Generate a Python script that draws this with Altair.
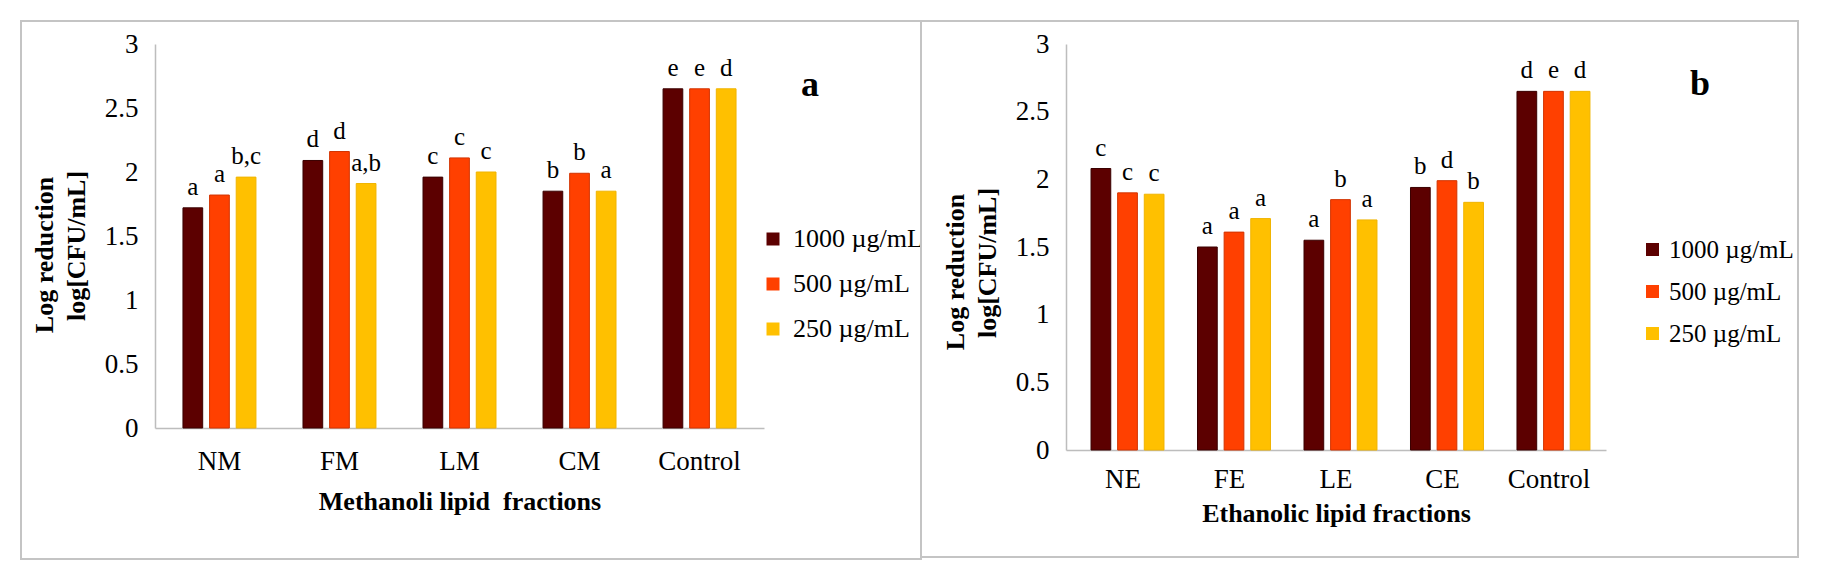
import altair as alt
import pandas as pd

FONT = "Liberation Serif"

doses = ["1000 µg/mL", "500 µg/mL", "250 µg/mL"]
colors = ["#5c0000", "#ff4000", "#ffc000"]
outlines = ["#3a0000", "#d23300", "#f0b400"]

# Panel a: methanolic lipid fractions
cats_a = ["NM", "FM", "LM", "CM", "Control"]
vals_a_1000 = [1.72, 2.09, 1.96, 1.85, 2.65]
vals_a_500 = [1.82, 2.16, 2.11, 1.99, 2.65]
vals_a_250 = [1.96, 1.91, 2.00, 1.85, 2.65]
let_a_1000 = ["a", "d", "c", "b", "e"]
let_a_500 = ["a", "d", "c", "b", "e"]
let_a_250 = ["b,c", "a,b", "c", "a", "d"]

# Panel b: ethanolic lipid fractions
cats_b = ["NE", "FE", "LE", "CE", "Control"]
vals_b_1000 = [2.08, 1.50, 1.55, 1.94, 2.65]
vals_b_500 = [1.90, 1.61, 1.85, 1.99, 2.65]
vals_b_250 = [1.89, 1.71, 1.70, 1.83, 2.65]
let_b_1000 = ["c", "a", "a", "b", "d"]
let_b_500 = ["c", "a", "b", "d", "e"]
let_b_250 = ["c", "a", "a", "b", "d"]

y_ticks = [0, 0.5, 1, 1.5, 2, 2.5, 3]
y_title = ["Log reduction", "log[CFU/mL]"]


def long_df(cats, vals, lets):
    rows = []
    for d, vs, ls in zip(doses, vals, lets):
        for c, v, l in zip(cats, vs, ls):
            rows.append({"cat": c, "dose": d, "value": v, "letter": l})
    return pd.DataFrame(rows)


df_a = long_df(cats_a, [vals_a_1000, vals_a_500, vals_a_250], [let_a_1000, let_a_500, let_a_250])
df_b = long_df(cats_b, [vals_b_1000, vals_b_500, vals_b_250], [let_b_1000, let_b_500, let_b_250])
one = pd.DataFrame({"k": [0]})


def label(txt, x, y, size, weight="normal", angle=0):
    return alt.Chart(one).mark_text(font=FONT, fontSize=size, fontWeight=weight, angle=angle,
                                    align="center", baseline="middle", color="black").encode(
        x=alt.value(x), y=alt.value(y), text=alt.value(txt))


def panel(df, cats, width, height, pin, pout, opad, xtitle, ytitle_pos, xlpad, xty,
          lgx, lgy, lgrow, lgfont, lgoff, border, letter, lxy):
    bars = alt.Chart(df).mark_bar(strokeWidth=1).encode(
        x=alt.X("cat:N", scale=alt.Scale(domain=cats, paddingInner=pin, paddingOuter=pout),
                axis=alt.Axis(title=xtitle, labelAngle=0, ticks=False, labelPadding=xlpad,
                              labelFont=FONT, labelFontSize=27, labelColor="black",
                              titleFont=FONT, titleFontSize=26, titleFontWeight="bold",
                              titleColor="black", titleY=xty, titleBaseline="alphabetic",
                              domainColor="#bdbdbd", domainWidth=1.5, grid=False)),
        xOffset=alt.XOffset("dose:N", scale=alt.Scale(domain=doses, paddingInner=opad, paddingOuter=0)),
        y=alt.Y("value:Q", scale=alt.Scale(domain=[0, 3], nice=False),
                axis=alt.Axis(values=y_ticks, format="~g", ticks=False, labelPadding=17,
                              labelFont=FONT, labelFontSize=27, labelColor="black",
                              domainColor="#bdbdbd", domainWidth=1.5, grid=False, title=None)),
        color=alt.Color("dose:N", scale=alt.Scale(domain=doses, range=colors),
                        legend=alt.Legend(title=None, orient="none", legendX=lgx, legendY=lgy,
                                          symbolType="square", symbolSize=169,
                                          symbolStrokeWidth=0, labelFont=FONT,
                                          labelFontSize=lgfont, labelColor="black",
                                          rowPadding=lgrow, labelOffset=lgoff, padding=0)),
        stroke=alt.Stroke("dose:N", scale=alt.Scale(domain=doses, range=outlines), legend=None),
    )
    text = alt.Chart(df).mark_text(font=FONT, fontSize=25, dy=-13, baseline="alphabetic",
                                   align="center", color="black").encode(
        x="cat:N", xOffset="dose:N", y="value:Q", text="letter:N")
    box = alt.Chart(one).mark_rect(filled=False, stroke="#c4c4c4", strokeWidth=2).encode(
        x=alt.value(border[0]), x2=alt.value(border[1]),
        y=alt.value(border[2]), y2=alt.value(border[3]))
    tag = label(letter, lxy[0], lxy[1], 36, "bold")
    yt1 = label(y_title[0], ytitle_pos[0], ytitle_pos[1], 26, "bold", 270)
    yt2 = label(y_title[1], ytitle_pos[2], ytitle_pos[3], 26, "bold", 270)
    return alt.layer(box, bars, text, tag, yt1, yt2).properties(width=width, height=height)


pa = panel(df_a, cats_a, 609, 384, 0.392, 0.233, 0.259, "Methanoli lipid\u00a0 fractions",
           (-110, 211, -78, 202), 20, 81, 605, 182, 19, 26, 7,
           (-134, 766, -23, 515), "a", (655, 41))
pb = panel(df_b, cats_b, 540, 406, 0.399, 0.235, 0.217, "Ethanolic lipid fractions",
           (-110, 228, -78, 219), 16, 71, 574, 193, 16, 25, 4,
           (-145, 732, -23, 513), "b", (634, 40))

chart = alt.hconcat(pa, pb, spacing=302, bounds="flush").resolve_scale(
    color="independent", stroke="independent"
).resolve_legend(color="independent").properties(
    padding={"left": 19, "top": 19, "right": 5, "bottom": 5},
    background="white",
).configure_view(stroke="transparent")

chart.save("out.html", embed_options={"renderer": "svg", "actions": False})
